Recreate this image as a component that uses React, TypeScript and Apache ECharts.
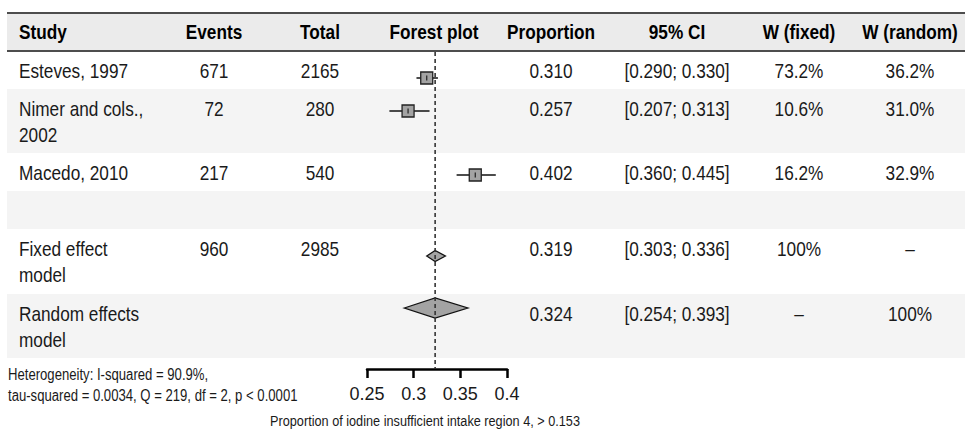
import React, { useEffect, useRef } from "react";
import * as echarts from "echarts";

// ---- table data ----
const headers = ["Study", "Events", "Total", "Forest plot", "Proportion", "95% CI", "W (fixed)", "W (random)"];
const studyNames = ["Esteves, 1997", "Nimer and cols.,\n2002", "Macedo, 2010"];
const studyEvents = ["671", "72", "217"];
const studyTotals = ["2165", "280", "540"];
const studyProps = ["0.310", "0.257", "0.402"];
const studyCIs = ["[0.290; 0.330]", "[0.207; 0.313]", "[0.360; 0.445]"];
const studyWFixed = ["73.2%", "10.6%", "16.2%"];
const studyWRandom = ["36.2%", "31.0%", "32.9%"];

const summaryNames = ["Fixed effect\nmodel", "Random effects\nmodel"];
const summaryEvents = ["960", ""];
const summaryTotals = ["2985", ""];
const summaryProps = ["0.319", "0.324"];
const summaryCIs = ["[0.303; 0.336]", "[0.254; 0.393]"];
const summaryWFixed = ["100%", "\u2013"];
const summaryWRandom = ["\u2013", "100%"];

// ---- plotted marks (as read on the plot's axis) ----
const studyEst = [0.314, 0.294, 0.366];
const studyLo = [0.303, 0.274, 0.346];
const studyHi = [0.326, 0.317, 0.388];
const summaryEst = [0.323, 0.323];
const summaryLo = [0.314, 0.29];
const summaryHi = [0.334, 0.358];
const refLineValue = 0.323;

const axisMin = 0.25;
const axisMax = 0.4;
const axisInterval = 0.05;

const heteroLines = [
  "Heterogeneity: I-squared = 90.9%,",
  "tau-squared = 0.0034, Q = 219, df = 2, p < 0.0001",
];
const xAxisTitle = "Proportion of iodine insufficient intake region 4, > 0.153";

// ---- layout ----
const FONT = "'Liberation Sans', Arial, sans-serif";
const NARROW = 0.82;
const W = 965;
const H = 431;
const TABLE_LEFT = 7;
const HEADER_TOP = 13;
const HEADER_BOTTOM = 51;
const rowHeights = [38, 64, 38, 38, 65, 64];
const markOffsets = [27, 22, 22, 0, 27, 14];
const diamondHeights = [11, 20];
const colX = [19, 214, 320, 434, 551, 677, 799, 910];
const colAlign = ["left", "center", "center", "center", "center", "center", "center", "center"];
const PLOT_LEFT = 367;
const PLOT_WIDTH = 140;
const AXIS_Y = 369;

export default function App() {
  const ref = useRef<HTMLDivElement>(null);

  useEffect(() => {
    if (!ref.current) return;
    const chart = echarts.init(ref.current, undefined, { renderer: "svg" });

    const rowTops: number[] = [];
    let acc = HEADER_BOTTOM;
    for (const h of rowHeights) {
      rowTops.push(acc);
      acc += h;
    }

    const elements: any[] = [];
    elements.push({
      type: "rect",
      z: -10,
      shape: { x: TABLE_LEFT, y: HEADER_TOP, width: W - TABLE_LEFT, height: HEADER_BOTTOM - HEADER_TOP },
      style: { fill: "#ebebeb" },
    });
    rowTops.forEach((t, i) => {
      if (i % 2 === 1) {
        elements.push({
          type: "rect",
          z: -10,
          shape: { x: TABLE_LEFT, y: t, width: W - TABLE_LEFT, height: rowHeights[i] },
          style: { fill: "#f4f4f4" },
        });
      }
    });
    [HEADER_TOP, HEADER_BOTTOM].forEach((y) => {
      elements.push({
        type: "rect",
        z: -5,
        shape: { x: TABLE_LEFT, y: y - 1, width: W - TABLE_LEFT, height: 2 },
        style: { fill: "#4d4d4d" },
      });
    });

    const pushText = (text: string, x: number, y: number, align: string, size: number, weight: string, color: string) => {
      elements.push({
        type: "text",
        z: 5,
        x,
        y,
        scaleX: NARROW,
        style: {
          text,
          x: 0,
          y: 0,
          fill: color,
          fontSize: size,
          fontFamily: FONT,
          fontWeight: weight,
          align,
          textAlign: align,
          verticalAlign: "middle",
          textVerticalAlign: "middle",
        },
      });
    };

    headers.forEach((h, c) => pushText(h, colX[c], 32, colAlign[c], 21, "bold", "#000"));

    const rowCells = (rowIdx: number, cells: string[]) => {
      cells.forEach((cell, c) => {
        if (!cell) return;
        const colIdx = c < 3 ? c : c + 1;
        cell.split("\n").forEach((ln, li) => {
          pushText(ln, colX[colIdx], rowTops[rowIdx] + 20 + li * 26, colAlign[colIdx], 21, "normal", "#1a1a1a");
        });
      });
    };

    const studyRows = [0, 1, 2];
    const summaryRows = [4, 5];
    studyRows.forEach((r, i) =>
      rowCells(r, [studyNames[i], studyEvents[i], studyTotals[i], studyProps[i], studyCIs[i], studyWFixed[i], studyWRandom[i]])
    );
    summaryRows.forEach((r, i) =>
      rowCells(r, [summaryNames[i], summaryEvents[i], summaryTotals[i], summaryProps[i], summaryCIs[i], summaryWFixed[i], summaryWRandom[i]])
    );

    heteroLines.forEach((ln, i) => pushText(ln, 8, 375 + i * 21, "left", 16, "normal", "#1a1a1a"));
    pushText(xAxisTitle, 425, 421, "center", 15.5, "normal", "#1a1a1a");

    const plotTop = HEADER_BOTTOM;
    const plotHeight = AXIS_Y - plotTop;
    const markY = (rowIdx: number) => rowTops[rowIdx] - plotTop + markOffsets[rowIdx];

    const studyData = studyEst.map((e, i) => [e, studyLo[i], studyHi[i], markY(studyRows[i])]);
    const summaryData = summaryEst.map((e, i) => [e, summaryLo[i], summaryHi[i], markY(summaryRows[i]), diamondHeights[i]]);

    chart.setOption({
      animation: false,
      backgroundColor: "#ffffff",
      grid: { left: PLOT_LEFT, width: PLOT_WIDTH, top: plotTop, height: plotHeight, containLabel: false },
      xAxis: {
        type: "value",
        position: "bottom",
        min: axisMin,
        max: axisMax,
        interval: axisInterval,
        axisLine: { show: true, onZero: false, lineStyle: { color: "#000", width: 2.5 } },
        axisTick: { show: true, length: 9, lineStyle: { color: "#000", width: 2.5 } },
        axisLabel: { fontSize: 18, color: "#1a1a1a", fontFamily: FONT, margin: 16 },
        splitLine: { show: false },
      },
      yAxis: { type: "value", min: 0, max: plotHeight, inverse: true, show: false },
      graphic: { elements },
      series: [
        {
          type: "custom",
          z: 3,
          encode: { x: [0, 1, 2], y: 3 },
          data: studyData,
          renderItem: (params: any, api: any) => {
            const y = api.value(3);
            const pE = api.coord([api.value(0), y]);
            const pL = api.coord([api.value(1), y]);
            const pH = api.coord([api.value(2), y]);
            return {
              type: "group",
              children: [
                { type: "line", shape: { x1: pL[0], y1: pL[1], x2: pH[0], y2: pH[1] }, style: { stroke: "#111", lineWidth: 1.5 } },
                { type: "rect", shape: { x: pE[0] - 6, y: pE[1] - 6, width: 12, height: 12 }, style: { fill: "#a3a3a3", stroke: "#222", lineWidth: 1.3 } },
                { type: "line", shape: { x1: pE[0], y1: pE[1] - 2.5, x2: pE[0], y2: pE[1] + 2.5 }, style: { stroke: "#222", lineWidth: 1.2 } },
              ],
            };
          },
        },
        {
          type: "custom",
          z: 3,
          encode: { x: [0, 1, 2], y: 3 },
          data: summaryData,
          renderItem: (params: any, api: any) => {
            const y = api.value(3);
            const h = api.value(4);
            const pE = api.coord([api.value(0), y]);
            const pL = api.coord([api.value(1), y]);
            const pH = api.coord([api.value(2), y]);
            return {
              type: "polygon",
              shape: {
                points: [
                  [pL[0], pL[1]],
                  [pE[0], pE[1] - h / 2],
                  [pH[0], pH[1]],
                  [pE[0], pE[1] + h / 2],
                ],
              },
              style: { fill: "#a3a3a3", stroke: "#111", lineWidth: 1.3 },
            };
          },
        },
        {
          type: "line",
          z: 10,
          symbol: "none",
          silent: true,
          data: [
            [refLineValue, 1],
            [refLineValue, plotHeight],
          ],
          lineStyle: { color: "#333", width: 1.6, type: [4, 3] },
        },
      ],
    });

    return () => chart.dispose();
  }, []);

  return <div ref={ref} style={{ position: "fixed", left: 0, top: 0, width: W, height: H }} />;
}
